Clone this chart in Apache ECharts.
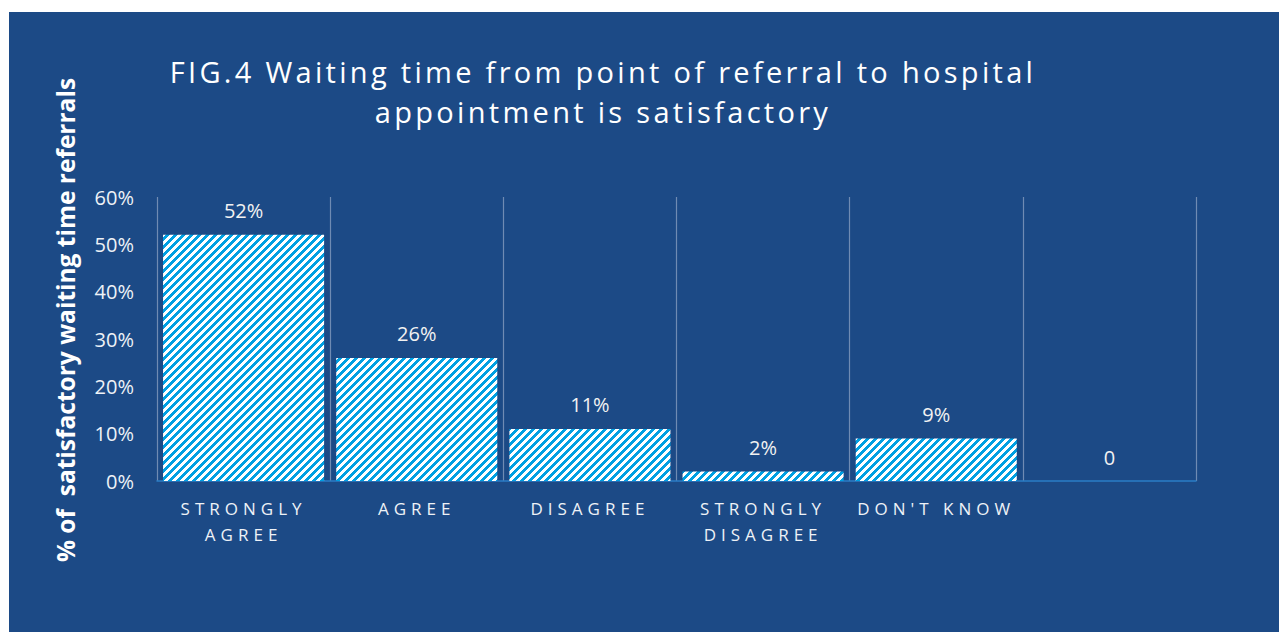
<!DOCTYPE html>
<html>
<head>
<meta charset="utf-8">
<script src="https://cdn.jsdelivr.net/npm/echarts@6/dist/echarts.min.js"></script>
<style>
  html, body { margin: 0; padding: 0; background: #ffffff; }
  #bg { position: absolute; left: 9px; top: 12px; width: 1270px; height: 620px; background: #1C4A86; }
  #chart { position: absolute; left: 0; top: 0; width: 1279px; height: 632px; }
  #chart text[style*="29px"] { letter-spacing: 3.3px; }
  #chart text[style*="17px"] { letter-spacing: 5px; }
</style>
</head>
<body>
<div id="bg"></div>
<div id="chart"></div>
<script>
const titleText = 'FIG.4 Waiting time from point of referral to hospital\nappointment is satisfactory';
const yAxisTitle = '% of  satisfactory waiting time referrals';
const categories = ['STRONGLY\nAGREE', 'AGREE', 'DISAGREE', 'STRONGLY\nDISAGREE', "DON'T KNOW", ''];
const values = [52, 26, 11, 2, 9, 0];
const yTicks = { min: 0, max: 60, interval: 10 };

// striped pattern tile (cyan / white diagonal stripes)
function makeStripe() {
  const c = document.createElement('canvas');
  c.width = 8; c.height = 8;
  const ctx = c.getContext('2d');
  for (let y = 0; y < 8; y++) {
    for (let x = 0; x < 8; x++) {
      ctx.fillStyle = ((x + y) % 8) < 4 ? '#00A0E2' : '#FFFFFF';
      ctx.fillRect(x, y, 1, 1);
    }
  }
  return c;
}
const stripe = makeStripe();

const chart = echarts.init(document.getElementById('chart'), null, { renderer: 'svg' });
chart.setOption({
  backgroundColor: 'transparent',
  animation: false,
  title: {
    text: titleText,
    left: 603,
    top: 51,
    textAlign: 'center',
    padding: 0,
    textStyle: {
      color: '#FFFFFF',
      fontFamily: 'Open Sans',
      fontSize: 29,
      fontWeight: 'normal',
      lineHeight: 40
    }
  },
  grid: { left: 157, right: 83, top: 197, bottom: 151, containLabel: false },
  xAxis: {
    type: 'category',
    data: categories,
    axisLine: { show: true, lineStyle: { color: '#2A7DC6', width: 1.5 } },
    axisTick: { show: false },
    splitLine: { show: true, interval: 0, lineStyle: { color: '#6F8BB3', width: 1.2 } },
    axisLabel: {
      interval: 0,
      margin: 14,
      color: '#EEF2F7',
      fontFamily: 'Open Sans',
      fontSize: 17,
      lineHeight: 26
    }
  },
  yAxis: {
    type: 'value',
    min: yTicks.min,
    max: yTicks.max,
    interval: yTicks.interval,
    name: yAxisTitle,
    nameLocation: 'middle',
    nameGap: 79,
    nameTextStyle: {
      color: '#FFFFFF',
      fontFamily: 'Open Sans',
      fontSize: 24.5,
      fontWeight: 'bold',
      padding: [0, 0, 0, 38]
    },
    axisLine: { show: false },
    axisTick: { show: false },
    splitLine: { show: false },
    axisLabel: {
      margin: 23,
      color: '#EEF2F7',
      fontFamily: 'Open Sans',
      fontSize: 20,
      formatter: '{value}%'
    }
  },
  series: [{
    type: 'bar',
    data: values,
    barCategoryGap: '7%',
    itemStyle: {
      color: { image: stripe, repeat: 'repeat', imageWidth: 8, imageHeight: 8 }
    },
    label: {
      show: true,
      position: 'top',
      distance: 14,
      color: '#F2F2F2',
      fontFamily: 'Open Sans',
      fontSize: 20,
      formatter: p => (p.value === 0 ? '0' : p.value + '%')
    }
  }]
});
</script>
</body>
</html>
